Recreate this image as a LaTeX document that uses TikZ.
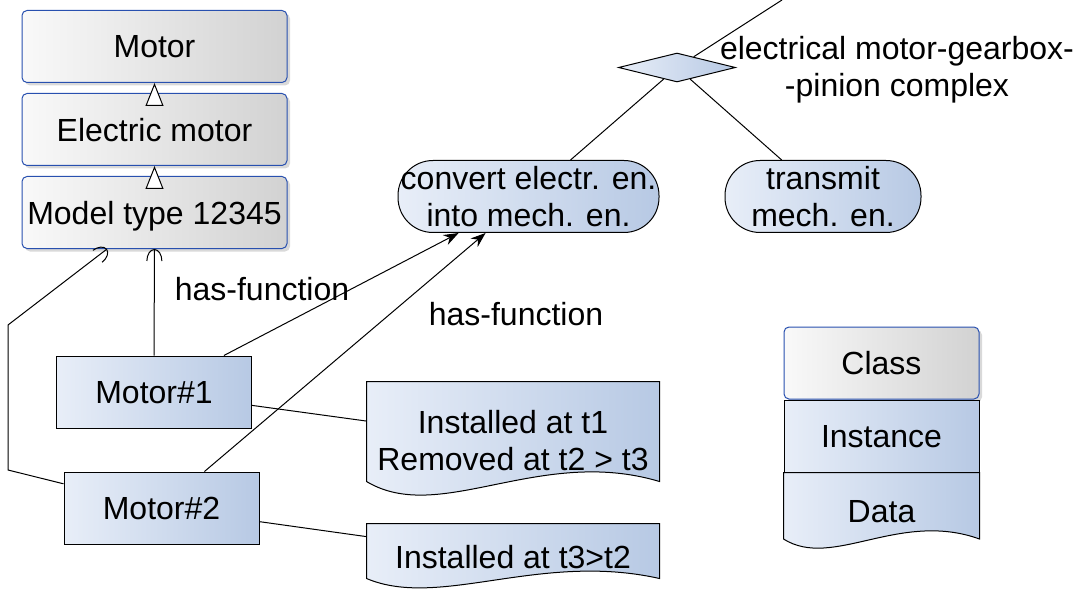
\documentclass[tikz,border=0pt]{standalone}
\usepackage{fontspec}
\setmainfont{Liberation Sans}
\usetikzlibrary{positioning,arrows.meta,shapes.geometric,shadows,backgrounds,calc}

\definecolor{classblue}{RGB}{40,80,175}
\definecolor{graylt}{RGB}{249,249,249}
\definecolor{graydk}{RGB}{210,210,210}
\definecolor{instlt}{RGB}{232,238,248}
\definecolor{instdk}{RGB}{183,201,228}

% wavy data shape behind a node: node, rise of corners, dip, peak
\newcommand\docshape[4]{%
  \shadedraw[left color=instlt, right color=instdk, draw=black, line width=1pt]
    ([yshift=#2]#1.south west) -- (#1.north west) -- (#1.north east) -- ([yshift=#2]#1.south east)
    .. controls ($([yshift=#2]#1.south west)!0.59!([yshift=#2]#1.south east)+(0,-#4)$)
    and ($([yshift=#2]#1.south west)!0.25!([yshift=#2]#1.south east)+(0,#3)$)
    .. ([yshift=#2]#1.south west) -- cycle;}

\begin{document}
\begin{tikzpicture}[x=1pt, y=-1pt, line width=1pt,
  font=\fontsize{32}{37}\selectfont,
  classbox/.style={rectangle, rounded corners=5pt, draw=classblue, line width=1pt,
    left color=graylt, right color=graydk, minimum width=265pt, minimum height=72pt,
    inner sep=2pt, text depth=0pt,
    drop shadow={shadow xshift=3pt, shadow yshift=-3pt, opacity=0.3}},
  instbox/.style={rectangle, draw=black, line width=1pt, left color=instlt, right color=instdk,
    minimum width=195pt, minimum height=72pt, inner sep=2pt, text depth=0pt},
  funcbox/.style={rectangle, rounded corners=35pt, draw=black, left color=instlt, right color=instdk,
    minimum height=72pt, inner sep=2pt, align=center},
  databox/.style={inner sep=2pt, align=center, minimum width=292pt},
  isa/.style={-{Triangle[fill=white, length=23pt, width=18pt]}},
  instof/.style={-{Arc Barb[length=12pt, width=16pt]}},
  hasfn/.style={-{Stealth[length=15pt, width=11pt]}}]
  \useasboundingbox (0,0) rectangle (1088,591);

  \node[classbox] (motor) at (154.5,46.5) {Motor};
  \node[classbox, below=10pt of motor] (elec) {Electric motor};
  \node[classbox, below=10pt of elec] (model) {Model type 12345};

  \node[instbox] (m1) at (154,392) {Motor\#1};
  \node[instbox] (m2) at (161.5,508) {Motor\#2};

  \node[funcbox, minimum width=261pt] (conv) at (528.5,196.5) {convert electr. en.\\into mech. en.};
  \node[funcbox, minimum width=196pt] (trans) at (823,196.5) {transmit\\mech. en.};
  \node[diamond, aspect=4, draw=black, left color=instlt, right color=instdk,
    minimum width=117pt, minimum height=29pt, inner sep=0pt] (cplx) at (677,67.5) {};
  \node[align=center] (cplxname) at (897,70) {electrical motor-gearbox-\\-pinion complex};
  \coordinate (up) at (782,0);

  \node[databox, minimum height=118pt] (d1) at (513,441) {Installed at t1\\Removed at t2 > t3};
  \node[databox, minimum height=66pt] (d2) at (513,557) {Installed at t3>t2};

  \node (hf1) at (262,289) {has-function};
  \node (hf2) at (516,314) {has-function};
  \coordinate (bendA) at (8,470);
  \coordinate (bendB) at (8,325);

  \node[classbox, minimum width=195pt] (lgclass) at (881.5,363) {Class};
  \node[instbox, below=0pt of lgclass] (lginst) {Instance};
  \node[databox, minimum width=195pt, minimum height=78pt, below=0pt of lginst] (lgdata) {Data};

  \begin{scope}[on background layer]
    \docshape{d1}{19pt}{44}{36}
    \docshape{d2}{12pt}{31}{27}
    \docshape{lgdata}{12.5pt}{31}{29}
  \end{scope}

  \draw[isa] (elec) -- (motor);
  \draw[isa] (model) -- (elec);
  \draw[instof] (m1) -- (model);
  \draw[instof] (m2) -- (bendA) -- (bendB) -- (model);
  \draw[hasfn] (m1) -- (conv);
  \draw[hasfn] (m2) -- (conv);
  \draw (m1) -- (d1);
  \draw (m2) -- (d2);
  \draw (cplx) -- (conv);
  \draw (cplx) -- (trans);
  \draw (cplx) -- (up);
\end{tikzpicture}
\end{document}
